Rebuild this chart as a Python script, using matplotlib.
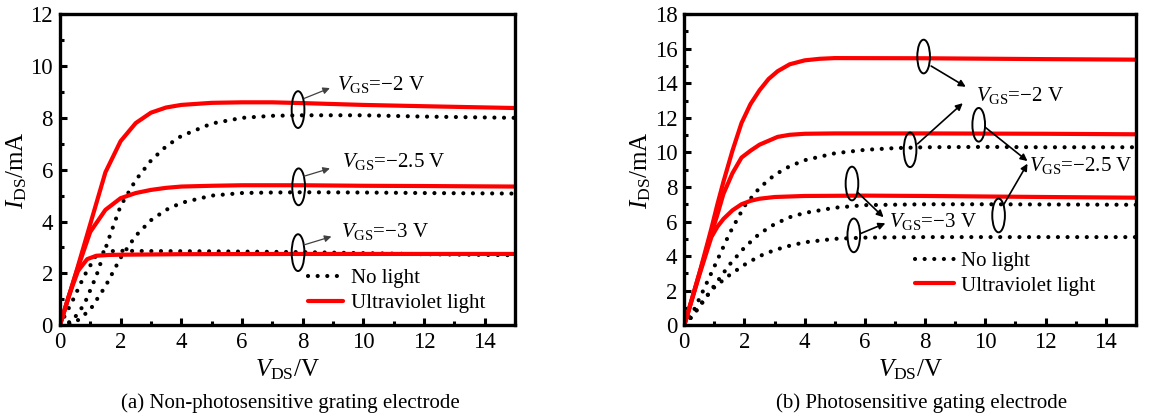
import numpy as np
import matplotlib
matplotlib.use("Agg")
import matplotlib.pyplot as plt
from matplotlib.patches import Ellipse
from matplotlib.ticker import MultipleLocator

plt.rcParams['font.family'] = ['Liberation Serif', 'DejaVu Serif']
plt.rcParams['mathtext.fontset'] = 'custom'
plt.rcParams['mathtext.rm'] = 'Liberation Serif'
plt.rcParams['mathtext.it'] = 'Liberation Serif:italic'

RED = '#ff0000'

# ---- (a) non-photosensitive gate: I_DS (mA) vs V_DS (V)
a_dark_2_x = [0, 0.4, 0.8, 1.2, 1.6, 2.0, 2.5, 3.0, 3.5, 4, 5, 6, 7, 8, 10, 12, 15]
a_dark_2_y = [0, 0.15, 0.8, 1.9, 3.3, 4.6, 5.6, 6.35, 6.9, 7.3, 7.78, 8.0, 8.08, 8.1, 8.1, 8.05, 8.0]
a_dark_25_x = [0, 0.5, 1, 1.5, 2, 2.5, 3, 3.5, 4, 5, 6, 7, 8, 10, 12, 15]
a_dark_25_y = [0, 0.1, 0.6, 1.5, 2.6, 3.45, 4.05, 4.45, 4.72, 5.0, 5.1, 5.12, 5.13, 5.12, 5.1, 5.08]
a_dark_3_x = [0, 0.4, 0.8, 1.2, 1.5, 2, 3, 5, 8, 10, 12, 15]
a_dark_3_y = [0, 0.9, 1.9, 2.7, 2.85, 2.87, 2.86, 2.85, 2.82, 2.78, 2.74, 2.7]

a_uv_2_x = [0, 0.5, 1, 1.5, 2, 2.5, 3, 3.5, 4, 5, 6, 7, 8, 10, 12, 15]
a_uv_2_y = [0, 1.9, 3.9, 5.9, 7.1, 7.8, 8.2, 8.4, 8.5, 8.58, 8.6, 8.6, 8.57, 8.5, 8.45, 8.38]
a_uv_25_x = [0, 0.5, 1, 1.5, 2, 2.5, 3, 3.5, 4, 5, 6, 8, 10, 12, 15]
a_uv_25_y = [0, 1.9, 3.6, 4.45, 4.9, 5.1, 5.22, 5.3, 5.35, 5.38, 5.4, 5.4, 5.38, 5.37, 5.35]
a_uv_3_x = [0, 0.3, 0.6, 0.9, 1.2, 1.6, 2, 4, 8, 12, 15]
a_uv_3_y = [0, 1.15, 2.1, 2.55, 2.68, 2.71, 2.72, 2.74, 2.75, 2.75, 2.75]

# ---- (b) photosensitive gate
b_dark_2_x = [0, 0.3, 0.6, 1.0, 1.5, 2, 2.5, 3, 3.5, 4, 5, 6, 7, 8, 10, 12, 15]
b_dark_2_y = [0, 0.8, 1.9, 3.4, 5.3, 6.9, 7.95, 8.7, 9.2, 9.55, 9.95, 10.15, 10.25, 10.3, 10.32, 10.3, 10.3]
b_dark_25_x = [0, 0.3, 0.6, 1.0, 1.5, 2, 2.5, 3, 3.5, 4, 5, 6, 8, 10, 15]
b_dark_25_y = [0, 0.6, 1.3, 2.3, 3.5, 4.5, 5.3, 5.85, 6.25, 6.5, 6.8, 6.95, 7.0, 7.0, 6.97]
b_dark_3_x = [0, 0.3, 0.7, 1.0, 1.5, 2, 2.5, 3, 3.5, 4, 5, 6, 8, 10, 15]
b_dark_3_y = [0, 0.6, 1.6, 2.2, 2.9, 3.5, 4.0, 4.35, 4.6, 4.8, 5.0, 5.07, 5.1, 5.1, 5.1]

b_uv_2_x = [0, 0.5, 0.9, 1.1, 1.3, 1.6, 1.9, 2.2, 2.5, 2.8, 3.1, 3.5, 4, 4.5, 5, 8, 12, 15]
b_uv_2_y = [0, 3.0, 5.6, 7.0, 8.3, 10.1, 11.7, 12.8, 13.6, 14.25, 14.7, 15.1, 15.33, 15.42, 15.46, 15.45, 15.4, 15.37]
b_uv_25_x = [0, 0.5, 0.9, 1.1, 1.3, 1.6, 1.9, 2.2, 2.5, 3.1, 3.5, 4, 5, 8, 12, 15]
b_uv_25_y = [0, 3.0, 5.3, 6.4, 7.6, 8.8, 9.7, 10.1, 10.45, 10.9, 11.02, 11.08, 11.1, 11.1, 11.08, 11.05]
b_uv_3_x = [0, 0.5, 0.9, 1.1, 1.3, 1.6, 1.9, 2.2, 2.5, 3, 4, 6, 8, 12, 15]
b_uv_3_y = [0, 2.9, 5.1, 5.7, 6.15, 6.65, 7.0, 7.2, 7.32, 7.42, 7.48, 7.5, 7.48, 7.42, 7.38]

gate_labels = [r'$V_{\mathrm{GS}}$=$-$2 V', r'$V_{\mathrm{GS}}$=$-$2.5 V', r'$V_{\mathrm{GS}}$=$-$3 V']

dotted = dict(color='black', lw=3.0, linestyle=(0, (0.01, 2.3)), dash_capstyle='round')
solid = dict(color=RED, lw=3.0, solid_capstyle='round')

fig = plt.figure(figsize=(11.52, 4.18), dpi=100)
ax1 = fig.add_axes([0.052, 0.222, 0.395, 0.744])
ax2 = fig.add_axes([0.594, 0.222, 0.392, 0.744])


def style_axis(ax, ymax):
    ax.set_xlim(0, 15)
    ax.set_ylim(0, ymax)
    ax.xaxis.set_major_locator(MultipleLocator(2))
    ax.xaxis.set_minor_locator(MultipleLocator(1))
    ax.yaxis.set_major_locator(MultipleLocator(2))
    ax.yaxis.set_minor_locator(MultipleLocator(1))
    ax.tick_params(which='both', direction='in', top=False, right=False,
                   width=2.2, labelsize=16.5, pad=5)
    ax.tick_params(which='major', length=5)
    ax.tick_params(which='minor', length=3)
    for s in ax.spines.values():
        s.set_linewidth(2.4)
    ax.set_xlabel(r'$V_{\mathrm{DS}}$/V', fontsize=18, labelpad=3)
    ax.set_ylabel(r'$I_{\mathrm{DS}}$/mA', fontsize=18, labelpad=1)


def mark(ax, cx, cy, w, h, start, end, lw, color):
    ax.add_patch(Ellipse((cx, cy), w, h, fill=False, ec='black', lw=1.4, zorder=5))
    ax.annotate('', xy=end, xytext=start,
                arrowprops=dict(arrowstyle='-|>', color=color, lw=lw,
                                mutation_scale=10, shrinkA=0, shrinkB=0), zorder=5)


# panel (a)
ax1.plot(a_dark_2_x, a_dark_2_y, **dotted, label='No light')
ax1.plot(a_dark_25_x, a_dark_25_y, **dotted)
ax1.plot(a_dark_3_x, a_dark_3_y, **dotted)
ax1.plot(a_uv_2_x, a_uv_2_y, **solid, label='Ultraviolet light')
ax1.plot(a_uv_25_x, a_uv_25_y, **solid)
ax1.plot(a_uv_3_x, a_uv_3_y, **solid)
style_axis(ax1, 12)

mark(ax1, 7.85, 8.32, 0.42, 1.42, (8.05, 8.75), (8.9, 9.15), 0.9, '#404040')
mark(ax1, 7.87, 5.34, 0.42, 1.42, (8.05, 5.75), (8.9, 6.05), 0.9, '#404040')
mark(ax1, 7.85, 2.8, 0.42, 1.42, (8.05, 3.1), (8.95, 3.42), 0.9, '#404040')
ax1.text(9.15, 9.3, gate_labels[0], fontsize=15, va='center')
ax1.text(9.3, 6.3, gate_labels[1], fontsize=15, va='center')
ax1.text(9.25, 3.6, gate_labels[2], fontsize=15, va='center')

ax1.legend(loc='center left', bbox_to_anchor=(0.545, 0.11), frameon=False,
           fontsize=15, handlelength=1.7, handletextpad=0.35, labelspacing=0.25,
           borderpad=0, borderaxespad=0)

# panel (b)
ax2.plot(b_dark_2_x, b_dark_2_y, **dotted, label='No light')
ax2.plot(b_dark_25_x, b_dark_25_y, **dotted)
ax2.plot(b_dark_3_x, b_dark_3_y, **dotted)
ax2.plot(b_uv_2_x, b_uv_2_y, **solid, label='Ultraviolet light')
ax2.plot(b_uv_25_x, b_uv_25_y, **solid)
ax2.plot(b_uv_3_x, b_uv_3_y, **solid)
style_axis(ax2, 18)

mark(ax2, 7.95, 15.55, 0.42, 1.95, (8.2, 15.0), (9.35, 13.8), 1.2, 'black')
mark(ax2, 7.5, 10.15, 0.42, 2.0, (7.75, 10.5), (9.25, 12.85), 1.2, 'black')
mark(ax2, 9.78, 11.6, 0.42, 1.95, (10.0, 11.45), (11.4, 9.5), 1.2, 'black')
mark(ax2, 10.44, 6.35, 0.42, 1.95, (10.6, 6.95), (11.4, 9.35), 1.2, 'black')
mark(ax2, 5.57, 8.2, 0.42, 1.95, (5.75, 7.7), (6.62, 6.25), 1.2, 'black')
mark(ax2, 5.63, 5.2, 0.42, 1.95, (5.85, 5.3), (6.68, 5.9), 1.2, 'black')
ax2.text(9.7, 13.3, gate_labels[0], fontsize=15, va='center')
ax2.text(11.45, 9.25, gate_labels[1], fontsize=15, va='center')
ax2.text(6.8, 6.0, gate_labels[2], fontsize=15, va='center')

ax2.legend(loc='center left', bbox_to_anchor=(0.51, 0.166), frameon=False,
           fontsize=15, handlelength=1.9, handletextpad=0.35, labelspacing=0.25,
           borderpad=0, borderaxespad=0)

fig.text(0.252, 0.035, '(a) Non-photosensitive grating electrode', fontsize=15, ha='center', va='center')
fig.text(0.8, 0.035, '(b) Photosensitive gating electrode', fontsize=15, ha='center', va='center')

fig.savefig('out.png', dpi=100)
